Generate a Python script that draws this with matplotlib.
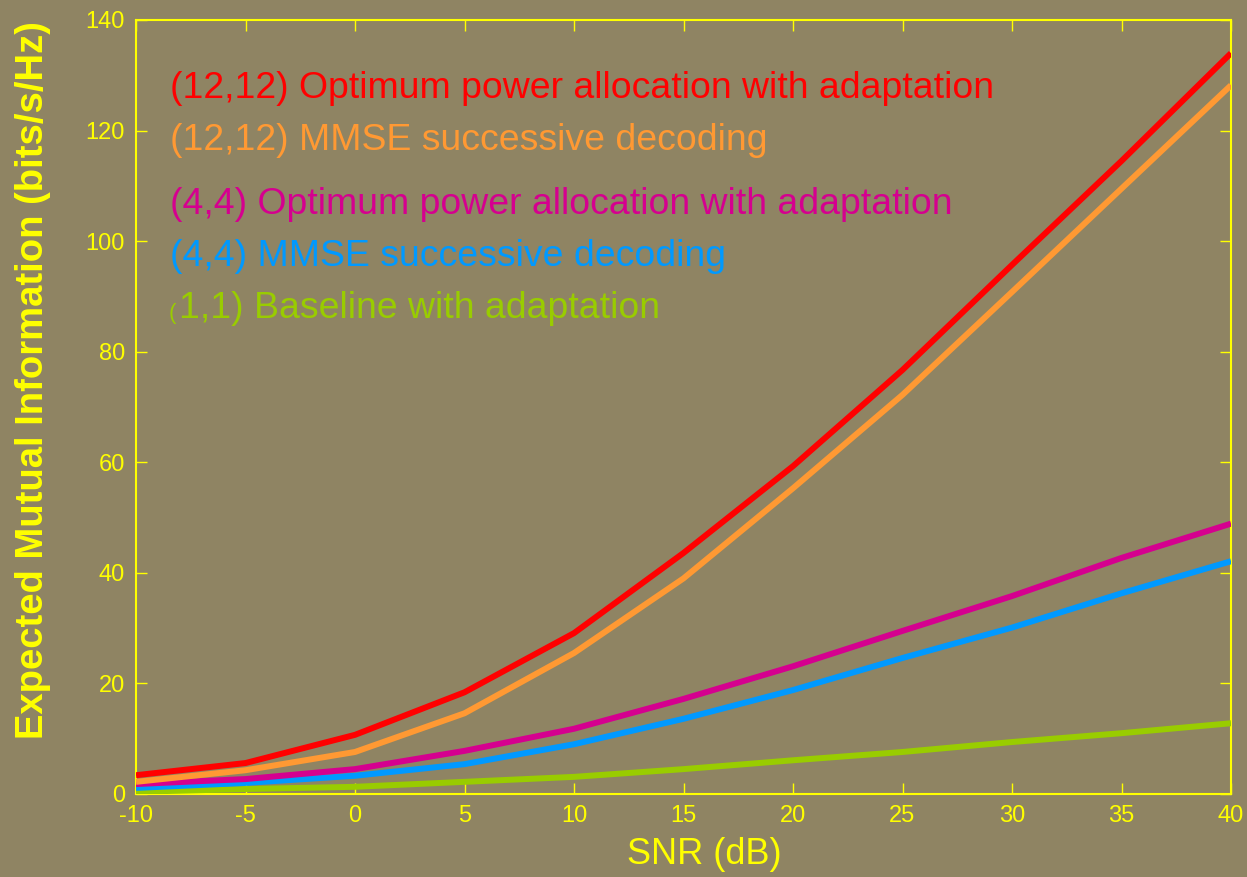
import matplotlib
matplotlib.use('Agg')
import matplotlib.pyplot as plt

snr_db = [-10, -5, 0, 5, 10, 15, 20, 25, 30, 35, 40]

opt_12 = [3.4, 5.6, 10.7, 18.4, 29.1, 43.6, 59.3, 76.7, 95.7, 114.5, 134.0]
mmse_12 = [2.2, 4.3, 7.6, 14.6, 25.5, 39.0, 55.3, 72.2, 90.8, 109.5, 128.2]
opt_4 = [1.8, 2.7, 4.5, 7.8, 11.8, 17.2, 23.1, 29.5, 35.8, 42.7, 48.9]
mmse_4 = [1.1, 2.0, 3.3, 5.4, 9.0, 13.6, 18.8, 24.6, 30.1, 36.3, 42.1]
base_1 = [0.4, 0.9, 1.3, 2.2, 3.1, 4.5, 6.1, 7.6, 9.4, 11.0, 12.8]

labels = [
    '(12,12) Optimum power allocation with adaptation',
    '(12,12) MMSE successive decoding',
    '(4,4) Optimum power allocation with adaptation',
    '(4,4) MMSE successive decoding',
    '1,1) Baseline with adaptation',
]
series = [opt_12, mmse_12, opt_4, mmse_4, base_1]
colors = ['#ff0000', '#ff9933', '#d5008f', '#0099ff', '#99cc00']

bg = '#8f8463'
yellow = '#ffff00'
plt.rcParams['font.family'] = ['Liberation Sans', 'DejaVu Sans']
plt.rcParams['axes.unicode_minus'] = False

W, H = 1247, 877
fig = plt.figure(figsize=(W / 100, H / 100), dpi=100, facecolor=bg)
ax = fig.add_axes([136 / W, 1 - 794 / H, 1095 / W, 774 / H])
ax.set_facecolor(bg)

# later series drawn first so red ends on top
for ys, c in list(zip(series, colors))[::-1]:
    ax.plot(snr_db, ys, color=c, lw=4.3, solid_capstyle='butt', zorder=3)

ax.set_xlim(-10, 40)
ax.set_ylim(0, 140)
ax.set_xticks(range(-10, 41, 5))
ax.set_yticks(range(0, 141, 20))

for s in ax.spines.values():
    s.set_color(yellow)
    s.set_linewidth(1.5)
ax.tick_params(direction='in', length=8, width=1, color=yellow, labelcolor=yellow,
               labelsize=17, top=True, right=True, pad=8)

# axis titles placed where the reference puts them
fig.text(704 / W, 1 - 855 / H, 'SNR (dB)', color=yellow, fontsize=26,
         ha='center', va='center')
fig.text(33 / W, 1 - 380 / H, 'Expected Mutual Information (bits/s/Hz)', color=yellow,
         fontsize=27.5, fontweight='bold', rotation=90, ha='center', va='center')

# legend written as coloured text lines
ypos = [88, 140, 204, 257, 308]
for lab, c, yp in zip(labels, colors, ypos):
    x0 = 170 if not lab.startswith('1') else 179
    fig.text(x0 / W, 1 - yp / H, lab, color=c, fontsize=26.9, va='center', ha='left')
fig.text(169 / W, 1 - 314 / H, '(', color=colors[4], fontsize=16, va='center', ha='left')

fig.savefig('out.png', dpi=100, facecolor=bg)
